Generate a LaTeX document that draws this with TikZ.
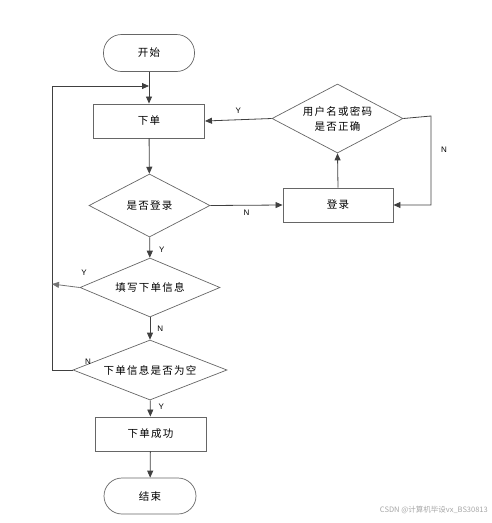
\documentclass[tikz,border=0pt]{standalone}
\usepackage{fontspec}
\setmainfont{Liberation Sans}
\newfontfamily\cjk[LetterSpace=12]{Noto Sans CJK SC}
\newfontfamily\cjkmark{Noto Sans CJK SC}
\usetikzlibrary{shapes.geometric,arrows.meta}
\begin{document}
\begin{tikzpicture}[
    x=1pt, y=-1pt,
    every node/.style={font=\cjk\fontsize{10.5}{15}\selectfont, align=center, inner sep=0pt},
    terminal/.style={draw=gray!80!black, line width=0.7pt, rounded corners=18pt,
        minimum width=91pt, minimum height=37pt},
    process/.style={draw=gray!80!black, line width=0.9pt,
        minimum width=111pt, minimum height=34pt},
    decision/.style={draw=gray!80!black, line width=0.7pt, diamond},
    arrow/.style={-{Triangle[length=7pt,width=6pt]}, line width=0.8pt, draw=black!75},
    yn/.style={font=\fontsize{8}{10}\selectfont}
]
\useasboundingbox (0,0) rectangle (492,523);

% Nodes
\node[terminal] (start) at (149,53) {开始};
\node[process] (order) at (149,121) {下单};
\node[decision, aspect=1.92, minimum width=121pt, minimum height=63pt] (islogin) at (149.5,205.5) {是否登录};
\node[process, minimum width=110pt] (login) at (338,205) {登录};
\node[decision, aspect=1.9, minimum width=131pt, minimum height=69pt] (check) at (337.5,118.5)
    {用户名或密码\\是否正确};
\node[decision, aspect=2.37, minimum width=140pt, minimum height=59pt] (fill) at (150,287.5) {填写下单信息};
\node[decision, aspect=2.57, minimum width=154pt, minimum height=60pt] (empty) at (150,370) {下单信息是否为空};
\node[process] (success) at (150.5,434) {下单成功};
\node[terminal, minimum width=92pt, minimum height=36pt] (end) at (150,496) {结束};

% Loop corners
\coordinate (loopin) at (149,86);
\coordinate (loopleft) at (52,86);
\coordinate (checkright) at (431,116);

% Main line
\draw[arrow] (start) -- (order);
\draw[arrow] (order) -- (islogin);
\draw[arrow] (islogin) -- (fill)
    node[yn, pos=0.6, right=9pt] {Y};
\draw[arrow] (fill) -- (empty)
    node[yn, pos=0.5, right=7pt] {N};
\draw[arrow] (empty) -- (success)
    node[yn, pos=0.4, right=8pt] {Y};
\draw[arrow] (success) -- (end);

% Login branch
\draw[arrow] (islogin.east) -- (login.west)
    node[yn, midway, below=4pt] {N};
\draw[arrow] (login.north) -- (check.south);
\draw[arrow] (check.west) -- (order.east)
    node[yn, midway, above=6pt] {Y};
\draw[arrow] (check.east) -- (checkright) -- (checkright |- login.east) -- (login.east);
\node[yn] (nlabel) at (444,150) {N};

% Left return loop
\draw[line width=0.8pt, draw=black!75] (empty.west) -- (empty.west -| loopleft) -- (loopleft);
\draw[arrow] (loopleft) -- (loopin);
\node[yn] (nloop) at (88,362) {N};
\draw[arrow, draw=black!55] (fill.west) -- (52,284);
\node[yn] (yloop) at (84,273) {Y};

% Watermark
\node[font=\cjkmark\fontsize{7.5}{9}\selectfont, text=black!35, anchor=east] (mark) at (488,510)
    {CSDN @计算机毕设vx\_BS30813};
\end{tikzpicture}
\end{document}
